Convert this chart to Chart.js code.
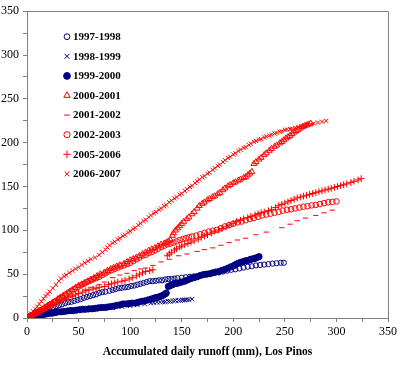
<!DOCTYPE html>
<html>
<head>
<meta charset="utf-8">
<script src="https://cdn.jsdelivr.net/npm/chart.js@4.4.1/dist/chart.umd.min.js"></script>
<style>
  html, body { margin: 0; padding: 0; background: #fff; }
  #wrap { width: 400px; height: 365px; }
</style>
</head>
<body>
<div id="wrap"><canvas id="chart1" width="400" height="365"></canvas></div>
<script>
// season labels
const seasons = ['1997-1998', '1998-1999', '1999-2000', '2000-2001', '2001-2002', '2002-2003', '2005-2006', '2006-2007'];

// [accumulated daily runoff (mm), y value]
const s9798 = [[0,0],[2,1],[4,2],[6,3],[8,4],[10,5],[12,6],[14,7],[16,8],[18,9],[20,10.5],[22,12],[25,12.5],[28,13.5],[31,14.5],[34,15.5],[37,17],[40,18],[43,18.5],[46,19.5],[49,20.5],[52,21.5],[55,23],[58,24],[61,25],[64,26],[67,27],[70,28.5],[73,29.5],[76,30],[80,31],[83,32],[86,33],[89,34],[92,34.5],[95,35],[98,35.5],[101,36.5],[104,37],[107,38],[110,39],[113,40],[116,41],[119,42],[122,42],[125,42.5],[128,43],[131,43],[134,44],[137,44.5],[140,44.5],[143,45],[146,45.5],[150,46],[154,46.5],[158,47],[162,47.5],[166,48],[170,49],[174,50],[178,50.5],[182,51.5],[186,52],[190,53],[194,54],[198,55],[202,55.5],[206,56.5],[210,57.5],[214,58.5],[218,59],[222,60],[226,60.5],[230,61],[234,61.5],[238,62],[242,62.5],[246,63],[249,63]];
const s9899 = [[0,0],[4,1],[8,2],[13,3],[18,4],[25,5],[32,6],[40,7],[50,8],[58,9],[66,10],[75,11],[83,12],[92,13],[100,14],[107,15],[114,16],[120,17],[123,17.5],[126,18],[129,18],[132,18.5],[134,18.5],[137,19],[139,19],[142,19.5],[144,20],[147,20],[149,20],[151,20.5],[153,20.5],[155,21],[157,21],[160,21.5]];
const s9900 = [[0,0],[2,0.5],[4,1],[6,1.5],[8,2.5],[10,3],[12,3],[14,3.5],[16,4],[18,4.5],[20,5],[22,5.5],[24,5.5],[26,6],[28,6.5],[30,7],[33,7],[36,7.5],[39,8],[42,8.5],[45,8.5],[48,9],[51,9.5],[54,10],[57,10],[60,10.5],[63,10.5],[66,11],[69,11.5],[72,12],[75,12],[78,12.5],[81,13],[84,13.5],[87,14.5],[90,15],[93,16],[96,16],[99,16.5],[102,17],[105,17],[108,18],[111,19],[114,19.5],[117,20.5],[120,21.5],[122,22],[124,23],[126,23.5],[128,24],[130,25],[132,26],[134,27.5],[135,28.5],[137,36],[139,37],[141,38],[143,39],[145,39.5],[147,40],[150,41],[153,42],[156,43.5],[159,45],[162,46],[165,47],[168,48.5],[171,49.5],[174,50],[177,50.5],[180,51.5],[183,52.5],[186,53],[189,54.5],[192,55.5],[195,57],[198,58.5],[201,60],[203,61.5],[205,62.5],[207,63.5],[209,64],[211,65],[213,65.5],[215,66],[217,67],[219,67.5],[221,68],[223,69],[225,70]];
const s0001 = [[0,0],[2,1.5],[4,3],[6,4],[8,5],[10,6.5],[12,8],[14,9.5],[17,12],[20,14],[22,15],[25,17.5],[27,19],[30,21.5],[32,23],[35,25],[38,27],[41,29.5],[44,32],[47,34.5],[50,37],[53,38.5],[56,40],[59,42],[62,44],[65,46],[68,48],[71,50],[75,52],[78,54],[81,56],[84,57.5],[87,59],[90,60.5],[94,62],[97,64],[100,66],[103,67.5],[106,69],[109,71],[112,73],[115,75],[118,77],[121,78.5],[124,80],[127,82],[130,84],[133,85],[135,86],[137,87.5],[139,89],[141,94],[142,97],[144,100],[146,102.5],[148,105],[150,107.5],[152,110],[155,113],[157,115],[160,118.5],[162,121],[165,125],[167,128],[170,130.5],[172,132],[175,134.5],[177,136],[180,138],[182,139],[185,141.5],[187,143],[190,146],[192,148],[195,150.5],[197,152],[200,154],[202,155],[205,157],[207,158],[210,160],[212,161],[214,163],[216,165],[218,167],[220,176],[222,178],[225,181],[227,183],[230,186],[232,188],[235,191],[237,193],[240,195.5],[242,197],[245,199.5],[247,201],[249,203],[251,205],[253,206.5],[255,208],[257,210],[259,212],[261,213.5],[263,215],[265,216.5],[267,218],[269,219],[271,220],[273,221],[275,222]];
const s0102 = [[0,0],[4,2],[8,4],[13,7],[18,10],[25,14],[31,17],[37,21],[44,25],[50,28],[57,32],[63,35],[70,38],[75,41],[83,46],[90,49],[97,51],[104,54],[110,56],[115,57],[122,60],[130,64],[138,67],[147,71],[155,73],[165,76],[172,78],[180,80],[188,83],[196,86],[204,89],[212,91],[222,95],[232,98],[247,103],[255,107],[262,111],[270,114],[280,117],[288,120],[296,123]];
const s0203 = [[0,0],[2,1.5],[4,3],[6,4],[8,5.5],[10,7],[12,8],[14,9],[16,10.5],[18,12],[20,13.5],[22,15],[24,16.5],[26,18],[28,19.5],[31,22],[34,24],[37,26.5],[40,29],[43,31],[46,33],[49,35],[52,37],[55,39],[58,41],[61,42.5],[64,44],[67,45.5],[70,47],[73,49],[76,51],[79,53],[82,54.5],[85,56],[88,57.5],[91,59],[94,60],[97,61.5],[100,63],[103,65],[106,67],[109,69],[112,71],[115,72],[118,74],[121,75.5],[124,77],[127,79],[130,81],[133,82.5],[136,84],[139,85],[142,86],[145,87.5],[148,89],[151,90],[154,91],[157,92],[160,93],[164,94],[168,95.5],[172,97],[176,98.5],[180,99.5],[184,100.5],[188,102.5],[192,104.5],[196,106],[200,107.5],[204,109],[208,110],[212,111.5],[216,113],[220,114],[224,115.5],[228,117],[232,118],[236,119],[240,120],[244,121],[248,122.5],[252,123.5],[256,124],[260,125],[264,126],[268,127],[272,127.5],[276,128.5],[280,129],[284,130],[288,131],[292,132],[296,132.5],[300,133]];
const s0506 = [[0,0],[2,1.5],[4,2.5],[6,4],[8,5],[10,6],[13,8],[15,9],[18,11],[20,12],[23,14],[25,15],[28,17],[31,19],[34,20.5],[37,22],[40,23.5],[44,25],[47,26.5],[50,28],[54,29.5],[57,31],[60,32],[64,33],[67,34],[70,35],[75,36],[79,38],[82,39],[85,40],[88,41],[92,42],[95,43],[99,44.5],[102,46],[106,48],[109,50],[112,51.5],[115,53],[119,54],[122,55],[136,71],[138,73],[140,75],[143,77.5],[145,79],[148,81],[150,82],[153,83.5],[156,85],[159,86.5],[162,88],[166,90],[169,92],[172,93.5],[175,95],[179,97],[182,99],[186,100.5],[189,102],[193,104],[196,106],[200,108],[203,110],[207,111.5],[210,113],[214,114.5],[217,116],[221,117.5],[224,119],[227,120],[230,121],[234,122.5],[237,124],[241,126],[244,128],[247,129.5],[250,131],[253,132.5],[256,134],[259,135.5],[262,137],[265,138],[268,139],[271,140],[274,141],[277,142],[280,143],[283,144],[286,145],[289,146],[292,147],[295,148],[298,149],[301,150],[304,151],[307,152],[310,153],[314,154.5],[317,156],[321,157.5],[324,159]];
const s0607 = [[0,0],[2,2.5],[4,5],[6,8],[8,10.5],[10,13],[12,16],[14,19],[16,22],[18,25],[20,27.5],[22,30],[25,34],[28,38],[31,42],[33,45],[36,47.5],[38,49],[41,51.5],[44,54],[47,56],[50,58],[53,60.5],[56,63],[59,65],[62,67],[66,69],[70,72],[73,75],[76,78],[78,80.5],[80,83],[83,85.5],[85,87],[88,89.5],[90,91],[93,93.5],[95,95],[98,97.5],[100,99],[103,101.5],[105,103],[108,106],[110,108],[113,110.5],[115,112],[118,115],[120,117],[123,119.5],[125,121],[128,123.5],[130,125],[133,127.5],[135,129],[138,132],[140,134],[143,136.5],[145,138],[148,140.5],[150,142],[153,145],[155,147],[158,149.5],[160,151],[163,154],[165,156],[167,158],[170,160.5],[172,162],[175,164.5],[177,166],[180,169],[182,171],[185,173.5],[187,175],[190,178],[192,180],[195,182.5],[197,184],[200,186.5],[202,188],[205,190.5],[207,192],[210,194],[212,195],[215,197.5],[217,199],[220,201],[222,202],[225,203.5],[227,204],[230,206],[232,207],[235,208],[237,209],[240,210.5],[242,211],[245,212.5],[247,213],[250,214.5],[252,215],[255,215.5],[257,216],[260,217],[263,218],[266,219],[269,220],[272,220.5],[275,221],[278,222],[282,223],[286,224],[290,225]];

const seriesData = [s9798, s9899, s9900, s0001, s0102, s0203, s0506, s0607];

const NAVY = '#000080';
const RED = '#ff0000';
const SERIF = "'Liberation Serif', 'Times New Roman', serif";

const styles = [
  { color: NAVY, fill: 'rgba(0,0,0,0)', pointStyle: 'circle', radius: 2.6 },
  { color: NAVY, fill: 'rgba(0,0,0,0)', pointStyle: 'crossRot', radius: 3.2 },
  { color: NAVY, fill: NAVY, pointStyle: 'circle', radius: 3.1 },
  { color: RED, fill: 'rgba(0,0,0,0)', pointStyle: 'triangle', radius: 3.4 },
  { color: RED, fill: RED, pointStyle: 'line', radius: 2.6 },
  { color: RED, fill: 'rgba(0,0,0,0)', pointStyle: 'circle', radius: 2.8 },
  { color: RED, fill: 'rgba(0,0,0,0)', pointStyle: 'cross', radius: 3.4 },
  { color: RED, fill: 'rgba(0,0,0,0)', pointStyle: 'crossRot', radius: 3.0 }
];

// frame on top and right, like the plot border
const frame = {
  id: 'frame',
  afterDraw(chart) {
    const a = chart.chartArea;
    const c = chart.ctx;
    c.save();
    c.strokeStyle = '#808080';
    c.lineWidth = 1;
    c.beginPath();
    c.moveTo(a.left, Math.round(a.top) + 0.5);
    c.lineTo(Math.round(a.right) + 0.5, Math.round(a.top) + 0.5);
    c.lineTo(Math.round(a.right) + 0.5, a.bottom);
    c.stroke();
    c.restore();
  }
};

// legend sits inside the plot, upper left
const innerLegend = {
  id: 'innerLegend',
  afterDraw(chart) {
    const a = chart.chartArea;
    const c = chart.ctx;
    const x0 = a.left + 40;
    const y0 = a.top + 25.5;
    const gap = 19.6;
    c.save();
    c.font = 'bold 11px ' + SERIF;
    c.textBaseline = 'middle';
    c.textAlign = 'left';
    chart.data.datasets.forEach(function(ds, i) {
      const y = y0 + i * gap;
      c.strokeStyle = ds.borderColor;
      c.fillStyle = ds.backgroundColor;
      c.lineWidth = 1;
      Chart.helpers.drawPoint(c, {
        pointStyle: ds.pointStyle,
        radius: ds.pointRadius + 0.3,
        rotation: 0,
        borderWidth: ds.pointStyle === 'line' ? 1.5 : 1
      }, x0, y);
      c.fillStyle = '#000';
      c.fillText(ds.label, x0 + 6, y + 0.5);
    });
    c.restore();
  }
};

const ctx = document.getElementById('chart1');

new Chart(ctx, {
  type: 'scatter',
  data: {
    datasets: seriesData.map(function(pts, i) {
      return {
        label: seasons[i],
        data: pts.map(function(p) { return { x: p[0], y: p[1] }; }),
        showLine: false,
        pointStyle: styles[i].pointStyle,
        pointRadius: styles[i].radius,
        pointBorderWidth: 1,
        borderColor: styles[i].color,
        backgroundColor: styles[i].fill,
        order: seriesData.length - i
      };
    })
  },
  options: {
    responsive: false,
    animation: false,
    layout: {
      padding: { top: 7, right: 10, left: 0, bottom: 0 }
    },
    plugins: {
      legend: { display: false },
      tooltip: { enabled: false },
      title: { display: false }
    },
    scales: {
      x: {
        type: 'linear',
        min: 0,
        max: 350,
        grid: { drawOnChartArea: false, drawTicks: true, tickLength: 4, color: '#808080' },
        border: { color: '#808080' },
        ticks: {
          stepSize: 25,
          autoSkip: false,
          maxRotation: 0,
          padding: 3,
          color: '#000',
          font: { family: SERIF, size: 12 },
          callback: function(v) { return v % 50 === 0 ? v : ''; }
        },
        title: {
          display: true,
          text: 'Accumulated daily runoff (mm), Los Pinos',
          color: '#000',
          font: { family: SERIF, size: 11.5, weight: 'bold' },
          padding: { top: 0, bottom: 6 }
        },
        afterFit: function(scale) { scale.height = 47; }
      },
      y: {
        type: 'linear',
        min: 0,
        max: 350,
        grid: { drawOnChartArea: false, drawTicks: true, tickLength: 4, color: '#808080' },
        border: { color: '#808080' },
        ticks: {
          stepSize: 25,
          autoSkip: false,
          padding: 4,
          color: '#000',
          font: { family: SERIF, size: 12 },
          callback: function(v) { return v % 50 === 0 ? v : ''; }
        },
        afterFit: function(scale) { scale.width = 27; }
      }
    }
  },
  plugins: [frame, innerLegend]
});
</script>
</body>
</html>
